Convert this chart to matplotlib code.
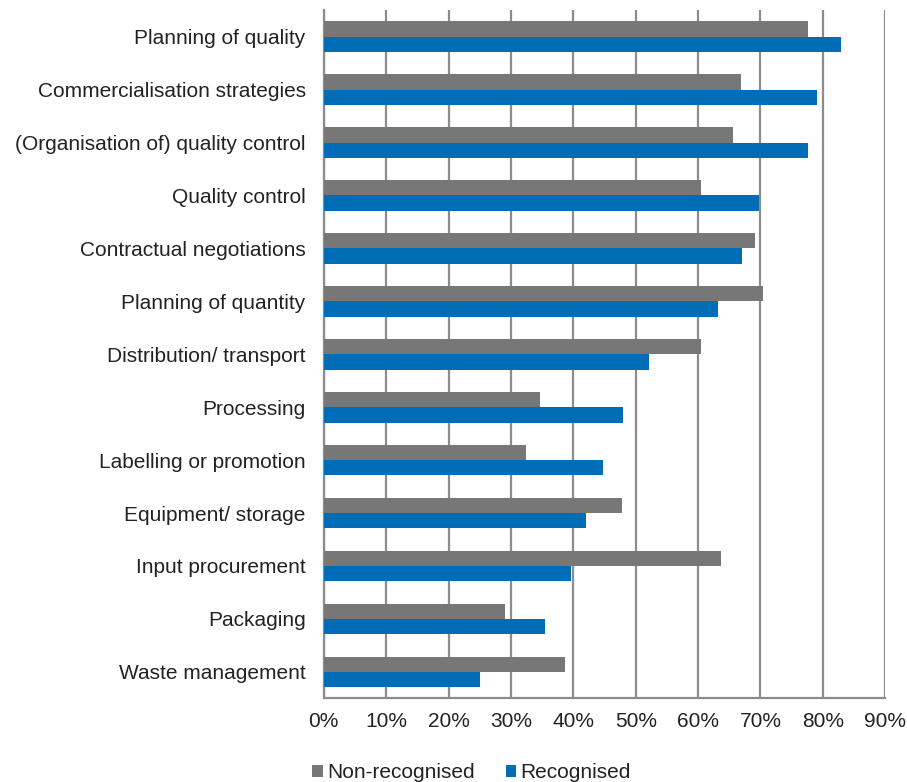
import numpy as np
import matplotlib
matplotlib.use('Agg')
import matplotlib.pyplot as plt
from matplotlib.ticker import FuncFormatter

plt.rcParams['font.family'] = ['Liberation Sans', 'DejaVu Sans']

categories = ['Planning of quality', 'Commercialisation strategies',
              '(Organisation of) quality control', 'Quality control',
              'Contractual negotiations', 'Planning of quantity',
              'Distribution/ transport', 'Processing', 'Labelling or promotion',
              'Equipment/ storage', 'Input procurement', 'Packaging',
              'Waste management']
non_recognised = [77.6, 66.8, 65.6, 60.5, 69.2, 70.4, 60.5, 34.6, 32.4, 47.8, 63.6, 29.1, 38.6]
recognised = [82.9, 79.0, 77.6, 69.8, 67.1, 63.2, 52.1, 48.0, 44.7, 42.0, 39.6, 35.5, 25.0]

gray = '#777777'
blue = '#006db6'
grid_c = '#8c8c8c'

fig = plt.figure(figsize=(9.07, 7.82), dpi=100)
ax = fig.add_axes([0.357, 0.107, 0.619, 0.880])

y = np.arange(len(categories))
h = 0.29
ax.barh(y - h / 2, non_recognised, height=h, color=gray, label='Non-recognised', zorder=3)
ax.barh(y + h / 2, recognised, height=h, color=blue, label='Recognised', zorder=3)

ax.set_xlim(0, 90)
ax.set_ylim(len(categories) - 0.5, -0.5)
ax.set_xticks(np.arange(0, 91, 10))
ax.xaxis.set_major_formatter(FuncFormatter(lambda v, p: '%d%%' % v))
ax.set_yticks(y)
ax.set_yticklabels(categories)
ax.tick_params(axis='both', length=0, labelsize=15, colors='#222222')
ax.tick_params(axis='x', pad=10)
ax.tick_params(axis='y', pad=13)

ax.grid(axis='x', color=grid_c, linewidth=1.6, zorder=0)
for s in ['top', 'right']:
    ax.spines[s].set_visible(False)
for s in ['left', 'bottom']:
    ax.spines[s].set_color(grid_c)
    ax.spines[s].set_linewidth(1.6)

fig.legend(loc='center', bbox_to_anchor=(0.52, 0.012), ncol=2, frameon=False,
           fontsize=15, handlelength=0.5, handleheight=0.5, handletextpad=0.2,
           columnspacing=1.5, labelcolor='#222222')

fig.savefig('out.png', dpi=100)
